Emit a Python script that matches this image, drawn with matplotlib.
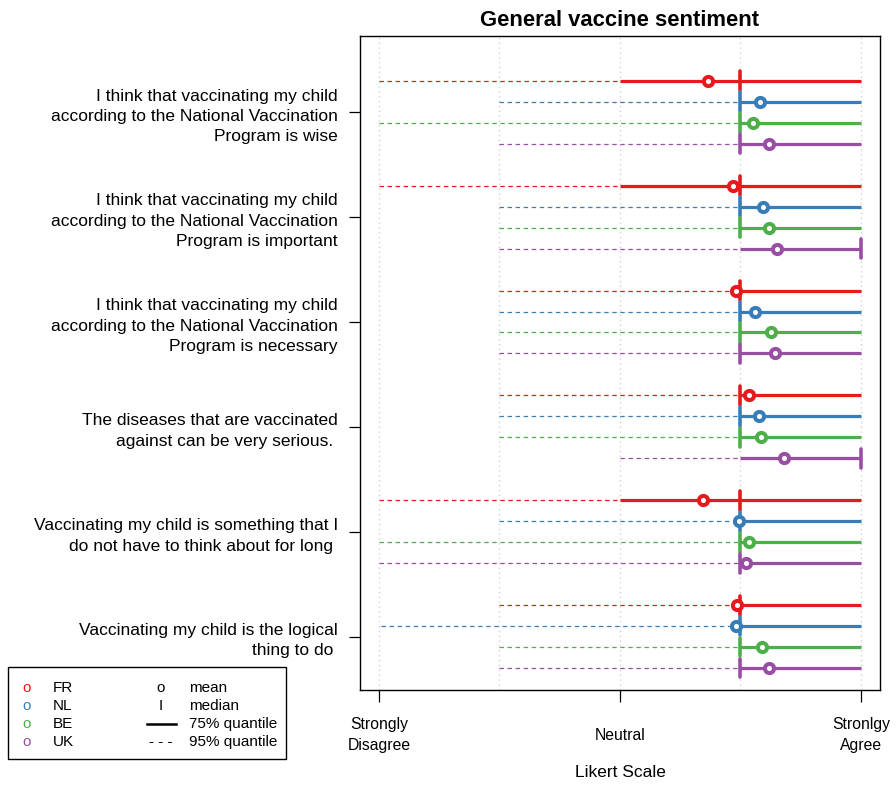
import matplotlib
matplotlib.use("Agg")
import matplotlib.pyplot as plt
from matplotlib.lines import Line2D

plt.rcParams["font.family"] = ["Liberation Sans", "DejaVu Sans"]
plt.rcParams["lines.scale_dashes"] = False

# ---- data -------------------------------------------------------------
questions = [
    "I think that vaccinating my child\naccording to the National Vaccination\nProgram is wise",
    "I think that vaccinating my child\naccording to the National Vaccination\nProgram is important",
    "I think that vaccinating my child\naccording to the National Vaccination\nProgram is necessary",
    "The diseases that are vaccinated\nagainst can be very serious. ",
    "Vaccinating my child is something that I\ndo not have to think about for long ",
    "Vaccinating my child is the logical\nthing to do ",
]
countries = ["FR", "NL", "BE", "UK"]
colors = ["#E41A1C", "#377EB8", "#4DAF4A", "#984EA3"]

# one row per question, one column per country (FR, NL, BE, UK)
lower95 = [
    [1, 2, 1, 2],
    [1, 2, 2, 2],
    [2, 2, 2, 2],
    [2, 2, 2, 3],
    [1, 2, 1, 1],
    [2, 1.02, 2, 2],
]
lower75 = [
    [3, 4, 4, 4],
    [3, 4, 4, 4],
    [4, 4, 4, 4],
    [4, 4, 4, 4],
    [3, 4, 4, 4],
    [4, 4, 4, 4],
]
upper75 = [
    [5, 5, 5, 5],
    [5, 5, 5, 5],
    [5, 5, 5, 5],
    [5, 5, 5, 5],
    [5, 5, 5, 5],
    [5, 5, 5, 5],
]
upper95 = [
    [5, 5, 5, 5],
    [5, 5, 5, 5],
    [5, 5, 5, 5],
    [5, 5, 5, 5],
    [5, 5, 5, 5],
    [5, 5, 5, 5],
]
medians = [
    [4, 4, 4, 4],
    [4, 4, 4, 5],
    [4, 4, 4, 4],
    [4, 4, 4, 5],
    [4, 4, 4, 4],
    [4, 4, 4, 4],
]
means = [
    [3.73, 4.16, 4.10, 4.24],
    [3.94, 4.19, 4.24, 4.30],
    [3.96, 4.12, 4.25, 4.29],
    [4.07, 4.15, 4.17, 4.36],
    [3.69, 3.99, 4.07, 4.05],
    [3.97, 3.96, 4.18, 4.24],
]
scale_ticks = [1, 3, 5]
scale_labels = ["Strongly\nDisagree", "Neutral", "Stronlgy\nAgree"]

# ---- figure -----------------------------------------------------------
W, H = 896, 787
fig = plt.figure(figsize=(W / 100, H / 100), dpi=100)
ax = fig.add_axes([360 / W, 1 - 690 / H, 520 / W, 654 / H])

n_c = len(countries)
group_step = n_c + 1
ax.set_xlim(0.8423, 5.158)
ax.set_ylim(28 + 1.05, -2.14)

for x in range(1, 6):
    ax.axvline(x, color="#cfcfcf", lw=0.9, ls=(0, (1, 2.5)), zorder=0)

dash = (3.2, 2.6)
for g in range(len(questions)):
    for c in range(n_c):
        y = g * group_step + c
        col = colors[c]
        ax.plot([lower95[g][c], lower75[g][c]], [y, y], color=col, lw=0.9,
                dashes=dash, zorder=2)
        ax.plot([upper75[g][c], upper95[g][c]], [y, y], color=col, lw=0.9,
                dashes=dash, zorder=2)
        ax.plot([lower75[g][c], upper75[g][c]], [y, y], color=col, lw=2.3,
                solid_capstyle="butt", zorder=3)
        ax.plot([medians[g][c], medians[g][c]], [y - 0.45, y + 0.45], color=col,
                lw=2.6, solid_capstyle="round", zorder=4)
        ax.plot([means[g][c]], [y], marker="o", ms=6.6, mew=2.9, mec=col,
                mfc="white", zorder=5)

centers = [g * group_step + (n_c - 1) / 2 for g in range(len(questions))]
ax.set_yticks(centers)
ax.set_yticklabels(questions, fontsize=12.5, linespacing=1.45)
ax.set_xticks(scale_ticks)
ax.set_xticklabels(scale_labels, fontsize=11.3, linespacing=1.45)
for lab in ax.get_xticklabels():
    lab.set_va("center")
ax.tick_params(axis="x", length=8.5, width=0.9, pad=24)
ax.tick_params(axis="y", length=8, width=0.9, pad=8)
for s in ax.spines.values():
    s.set_linewidth(1.0)

ax.set_xlabel("Likert Scale", fontsize=12.5, labelpad=9)
ax.set_title("General vaccine sentiment", fontsize=15.8, fontweight="bold", pad=7)

# ---- legend drawn in figure pixels ------------------------------------
def fx(px):
    return px / W

def fy(py):
    return 1 - py / H

box = plt.Rectangle((fx(7.5), fy(759)), (286 - 7.5) / W, (759 - 667) / H,
                    transform=fig.transFigure, fill=False, lw=1.0, ec="black")
fig.add_artist(box)

fs_leg = 11
row_y = [688, 706, 724, 742]
for i, (name, col) in enumerate(zip(countries, colors)):
    fig.text(fx(27), fy(row_y[i]), "o", color=col, fontsize=fs_leg, ha="center", va="center")
    fig.text(fx(53), fy(row_y[i]), name, color="black", fontsize=fs_leg, ha="left", va="center")

stat_labels = ["mean", "median", "75% quantile", "95% quantile"]
fig.text(fx(161), fy(row_y[0]), "o", fontsize=fs_leg, ha="center", va="center")
fig.text(fx(161), fy(row_y[1]), "I", fontsize=fs_leg, ha="center", va="center")
fig.add_artist(Line2D([fx(147), fx(175.5)], [fy(row_y[2]), fy(row_y[2])],
                      transform=fig.transFigure, color="black", lw=1.8))
fig.text(fx(161), fy(row_y[3]), "- - -", fontsize=fs_leg, ha="center", va="center")
for i, lab in enumerate(stat_labels):
    fig.text(fx(189), fy(row_y[i]), lab, fontsize=fs_leg, ha="left", va="center")

fig.savefig("out.png", dpi=100)
